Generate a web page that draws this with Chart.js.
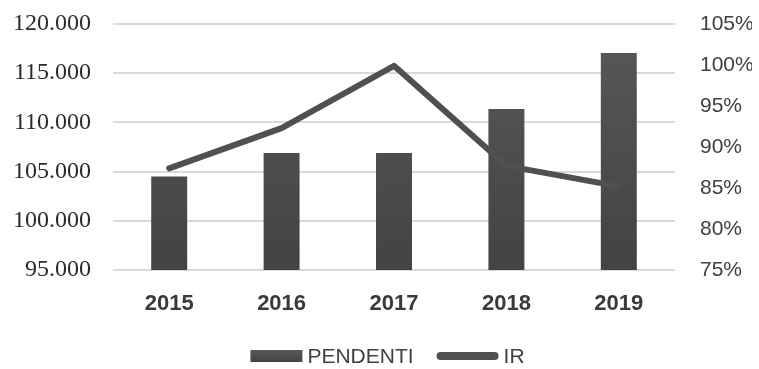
<!DOCTYPE html>
<html>
<head>
<meta charset="utf-8">
<script src="https://cdn.jsdelivr.net/npm/chart.js@4/dist/chart.umd.min.js"></script>
<style>
html,body{margin:0;padding:0;background:#fff;}
#wrap{width:759px;height:369px;}
</style>
</head>
<body>
<div id="wrap"><canvas id="c" width="759" height="369"></canvas></div>
<script>
const categories = ['2015', '2016', '2017', '2018', '2019'];
const pendenti = [104500, 106900, 106900, 111350, 117050];
const ir = [87.4, 92.3, 99.9, 87.7, 85.2];
const leftTicks = [95000, 100000, 105000, 110000, 115000, 120000];
const rightTicks = [75, 80, 85, 90, 95, 100, 105];
const seriesNames = ['PENDENTI', 'IR'];

function fmtThousands(v){
  return String(v).replace(/\B(?=(\d{3})+(?!\d))/g, '.');
}

function barGradient(c2d, top, bottom){
  const g = c2d.createLinearGradient(0, top, 0, bottom);
  g.addColorStop(0, '#585858');
  g.addColorStop(1, '#434343');
  return g;
}

// Custom legend drawn below the x axis
const customLegend = {
  id: 'customLegend',
  afterDraw(chart){
    const c = chart.ctx;
    c.save();
    c.font = '21px "Liberation Sans"';
    const boxW = 52, lineW = 62, gapText = 5, gapItem = 23;
    const w0 = c.measureText(seriesNames[0]).width;
    const w1 = c.measureText(seriesNames[1]).width;
    const total = boxW + gapText + w0 + gapItem + lineW + gapText + w1;
    let x = chart.width / 2 + 8 - total / 2;
    const cy = chart.height - 13;
    c.fillStyle = barGradient(c, cy - 6, cy + 6);
    c.fillRect(x, cy - 6, boxW, 12);
    x += boxW + gapText;
    c.fillStyle = '#404040';
    c.textBaseline = 'middle';
    c.textAlign = 'left';
    c.fillText(seriesNames[0], x, cy + 1);
    x += w0 + gapItem;
    c.strokeStyle = '#505050';
    c.lineWidth = 8;
    c.lineCap = 'round';
    c.beginPath();
    c.moveTo(x + 4, cy);
    c.lineTo(x + lineW - 4, cy);
    c.stroke();
    x += lineW + gapText;
    c.fillText(seriesNames[1], x, cy + 1);
    c.restore();
  }
};

function fixVertical(axis, w){
  axis.width = w;
  axis.paddingTop = 24;
  axis.paddingBottom = 0;
}

const ctx = document.getElementById('c').getContext('2d');
new Chart(ctx, {
  type: 'bar',
  data: {
    labels: categories,
    datasets: [
      {
        type: 'bar',
        label: seriesNames[0],
        data: pendenti,
        yAxisID: 'y',
        order: 1,
        backgroundColor: function(c){
          const ca = c.chart.chartArea;
          if (!ca) return '#4a4a4a';
          return barGradient(c.chart.ctx, ca.top, ca.bottom);
        },
        borderWidth: 0,
        barPercentage: 0.32,
        categoryPercentage: 1.0
      },
      {
        type: 'line',
        label: seriesNames[1],
        data: ir,
        yAxisID: 'y1',
        order: 0,
        borderColor: '#505050',
        borderWidth: 6,
        pointRadius: 0,
        tension: 0,
        fill: false,
        borderCapStyle: 'round',
        borderJoinStyle: 'round'
      }
    ]
  },
  plugins: [customLegend],
  options: {
    responsive: false,
    animation: false,
    devicePixelRatio: 1,
    layout: { padding: { left: 13, right: 7, top: 0, bottom: 49 } },
    plugins: {
      tooltip: { enabled: false },
      legend: { display: false }
    },
    scales: {
      x: {
        grid: { display: false, drawTicks: false },
        border: { display: false },
        afterFit: function(axis){ axis.height = 50; },
        ticks: {
          color: '#3a3a3a',
          padding: 21,
          font: { family: 'Liberation Sans', size: 22, weight: 'bold' }
        }
      },
      y: {
        position: 'left',
        min: 95000,
        max: 120000,
        afterBuildTicks: function(axis){ axis.ticks = leftTicks.map(v => ({ value: v })); },
        afterFit: function(axis){ fixVertical(axis, 100); },
        grid: { color: '#d9d9d9', lineWidth: 2, drawTicks: false },
        border: { display: false },
        ticks: {
          color: '#2a2a2a',
          padding: 22,
          font: { family: 'Liberation Serif', size: 24 },
          callback: function(v){ return fmtThousands(v); }
        }
      },
      y1: {
        position: 'right',
        min: 75,
        max: 105,
        afterBuildTicks: function(axis){ axis.ticks = rightTicks.map(v => ({ value: v })); },
        afterFit: function(axis){ fixVertical(axis, 77); },
        grid: { display: false, drawTicks: false },
        border: { display: false },
        ticks: {
          color: '#404040',
          padding: 25,
          font: { family: 'Liberation Sans', size: 21 },
          callback: function(v){ return v + '%'; }
        }
      }
    }
  }
});
</script>
</body>
</html>
